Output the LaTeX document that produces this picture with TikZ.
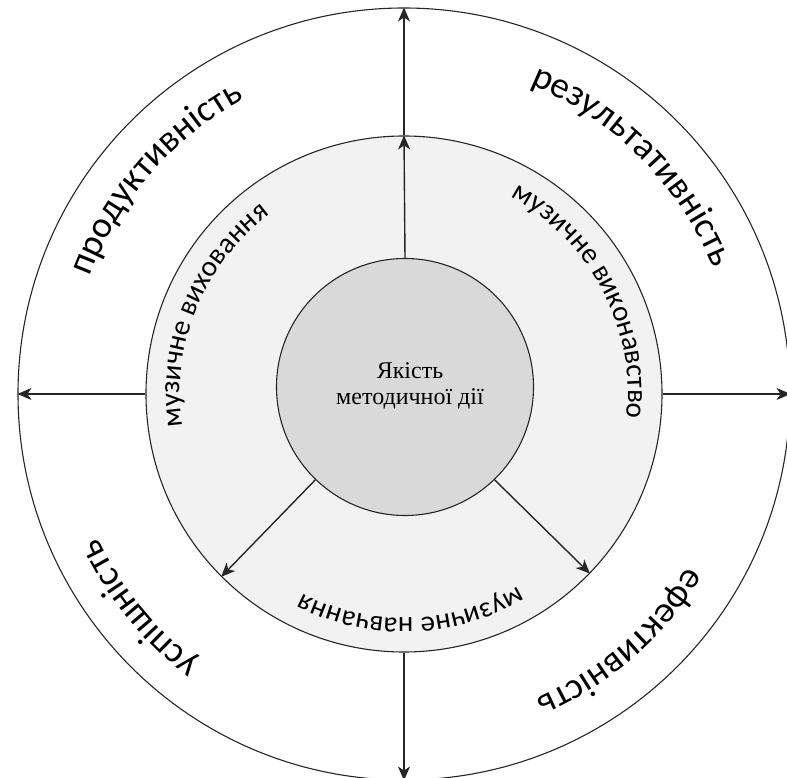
\documentclass[tikz,border=0pt]{standalone}
\usepackage{fontspec}
\setmainfont{Liberation Serif}
\newfontfamily\capfont{Carlito}
\usetikzlibrary{arrows.meta,decorations.text}
\newcommand\bigarc{\capfont\fontsize{37pt}{44pt}\selectfont}
\newcommand\ringarc{\capfont\fontsize{29pt}{35pt}\selectfont}
\definecolor{ringgray}{HTML}{F2F2F2}
\definecolor{coregray}{HTML}{D9D9D9}

\begin{document}
\begin{tikzpicture}
    [
    disc/.style={
      circle,
      draw=black!85,
      line width=1.1pt,
      inner sep=0pt
    },
    link/.style={
      -{Stealth[length=14pt,width=12pt,inset=4pt]},
      line width=1.4pt,
      black!85
    },
    arctext/.style={
      decorate,
      decoration={text along path, text align=center, text={#1}}
    }]
    \useasboundingbox (-404pt,-384pt) rectangle (383pt,394pt);
    % three discs
    \node (outer) at (0pt,0pt) [disc, fill=white, minimum size=772pt] {};
    \node (ring) at (0pt,0pt) [disc, fill=ringgray, minimum size=516pt] {};
    \node (core) at (1pt,7pt) [disc, fill=coregray, minimum size=257pt] {};
    \node (title) at (6pt,8pt) [align=center, font=\fontsize{24pt}{26pt}\selectfont] {Якість\\методичної дії};
    % arrows
    \draw [link] (core.north) -- (ring.north);
    \draw [link] (ring.north) -- (outer.north);
    \draw [link] (ring.west) -- (outer.west);
    \draw [link] (ring.east) -- (outer.east);
    \draw [link] (ring.south) -- (outer.south);
    \draw [link] (core.-134) -- (ring.-135.5);
    \draw [link] (core.-46) -- (ring.-44);
    % ring labels
    \path [arctext=|\ringarc|музичне виховання] (237.5:224pt) arc [start angle=237.5, end angle=77.5, radius=224pt];
    \path [arctext=|\ringarc|музичне виконавство] (107.7:224pt) arc [start angle=107.7, end angle=-52.3, radius=224pt];
    \path [arctext=|\ringarc|музичне навчання] (351.8:224pt) arc [start angle=351.8, end angle=191.8, radius=224pt];
    % outer labels
    \path [arctext=|\bigarc|продуктивність] (219:335pt) arc [start angle=219, end angle=59, radius=335pt];
    \path [arctext=|\bigarc|результативність] (125:334pt) arc [start angle=125, end angle=-35, radius=334pt];
    \path [arctext=|\bigarc|успішність] (299:338pt) arc [start angle=299, end angle=139, radius=338pt];
    \path [arctext=|\bigarc|ефективність] (391:332pt) arc [start angle=391, end angle=231, radius=332pt];
\end{tikzpicture}
\end{document}
